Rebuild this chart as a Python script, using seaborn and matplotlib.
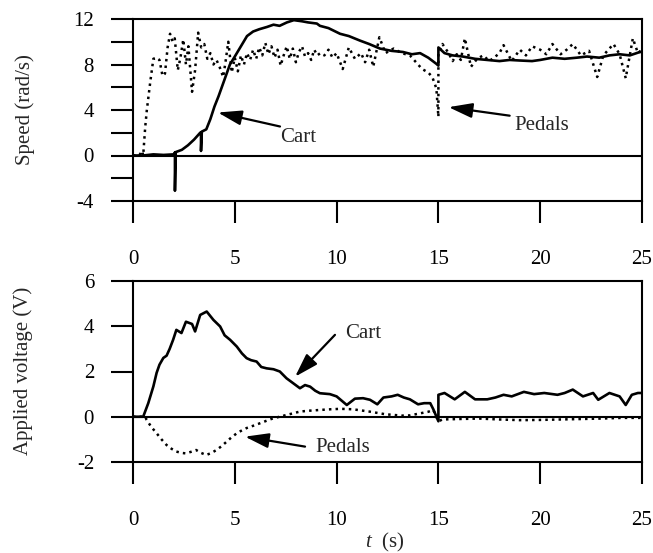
import matplotlib
matplotlib.use("Agg")
import matplotlib.pyplot as plt
import seaborn as sns

### speed panel data
cart_spd_t = [0, 0.5, 1.0, 1.5, 2.0, 2.06, 2.06, 2.1, 2.4, 2.7, 3.0, 3.3, 3.34, 3.34, 3.38, 3.6, 3.8, 4.0,
              4.2, 4.5, 4.76, 5.0, 5.3, 5.6, 5.9, 6.2, 6.58, 6.9, 7.2, 7.56, 7.9, 8.3, 8.6, 9.03, 9.18, 9.6,
              10.17, 10.6, 11.15, 11.6, 12.13, 12.7, 13.26, 13.7, 14.1, 14.5, 14.9, 15.0, 15.0, 15.3, 15.7,
              16.2, 16.8, 17.4, 18.0, 18.5, 19.0, 19.6, 20.0, 20.6, 21.2, 21.8, 22.3, 22.9, 23.4, 23.9, 24.4,
              24.9, 25.0]
cart_spd = [0, 0, 0.1, 0.05, 0.1, 0.27, -3.1, 0.3, 0.5, 0.9, 1.4, 2.0, 2.05, 0.4, 2.1, 2.3, 3.2, 4.3,
            5.2, 6.7, 8.0, 8.7, 9.6, 10.5, 10.9, 11.1, 11.3, 11.5, 11.4, 11.7, 11.9, 11.8, 11.7, 11.6, 11.4,
            11.2, 10.7, 10.5, 10.1, 9.8, 9.4, 9.2, 9.1, 8.9, 9.0, 8.6, 8.06, 7.9, 9.5, 9.0, 8.8, 8.7, 8.5,
            8.4, 8.3, 8.4, 8.35, 8.3, 8.4, 8.6, 8.5, 8.6, 8.7, 8.6, 8.8, 8.9, 8.8, 9.1, 9.1]

ped_spd_t = [0, 0.3, 0.45, 0.5, 0.6, 0.68, 0.85, 1.0, 1.15, 1.3, 1.45, 1.57, 1.7, 1.82, 1.95, 2.05, 2.2,
             2.32, 2.47, 2.6, 2.72, 2.9, 3.05, 3.2, 3.35, 3.5, 3.65, 3.8, 3.95, 4.1, 4.25, 4.43, 4.55, 4.68,
             4.85, 5.0, 5.15, 5.3, 5.45, 5.6, 5.75, 5.9, 6.05, 6.2, 6.35, 6.5, 6.65, 6.8, 6.95, 7.1, 7.25,
             7.4, 7.55, 7.7, 7.85, 8.0, 8.15, 8.3, 8.45, 8.6, 8.75, 8.9, 9.05, 9.2, 9.4, 9.6, 9.8, 10.0,
             10.3, 10.6, 10.9, 11.2, 11.4, 11.6, 11.8, 12.1, 12.4, 12.8, 13.2, 13.6, 13.8, 14.2, 14.5, 14.7,
             14.9, 15.0, 15.0, 15.2, 15.5, 15.7, 15.9, 16.1, 16.3, 16.6, 16.9, 17.2, 17.5, 17.8, 18.0, 18.2,
             18.6, 19.0, 19.3, 19.6, 20.0, 20.3, 20.6, 21.0, 21.3, 21.6, 22.0, 22.4, 22.8, 23.1, 23.4, 23.6,
             23.9, 24.2, 24.55, 24.8, 25.0]
ped_spd = [0, 0, 0.4, 0, 2.5, 4.0, 6.5, 8.5, 8.6, 8.4, 7.0, 7.2, 9.5, 10.7, 10.0, 10.3, 7.5, 8.5, 10.2,
           8.0, 9.6, 5.6, 7.5, 10.8, 9.5, 9.8, 8.5, 9.0, 8.0, 8.4, 7.8, 6.9, 8.3, 10.0, 7.3, 8.6, 7.4, 8.8,
           8.0, 9.0, 8.4, 9.3, 8.5, 9.5, 8.8, 9.9, 8.9, 9.6, 8.6, 9.3, 7.9, 8.8, 9.6, 8.5, 9.4, 8.2, 9.1,
           9.6, 8.7, 9.0, 8.4, 9.3, 8.8, 9.0, 8.8, 9.3, 8.6, 9.0, 7.6, 9.5, 8.5, 9.0, 8.2, 9.3, 7.8, 10.4,
           9.0, 9.4, 9.0, 8.8, 8.4, 7.6, 7.3, 6.9, 5.9, 3.4, 9.0, 9.8, 9.0, 8.3, 8.9, 8.4, 10.3, 7.8, 8.5,
           8.8, 8.3, 8.7, 9.0, 9.7, 8.3, 9.3, 8.8, 9.6, 9.3, 8.9, 9.8, 8.9, 9.3, 9.8, 8.8, 9.2, 6.9, 8.8,
           9.4, 9.8, 8.9, 6.8, 10.3, 9.0, 9.3]

### voltage panel data
cart_v_t = [0, 0.5, 0.75, 1.0, 1.16, 1.3, 1.49, 1.65, 1.8, 1.97, 2.13, 2.38, 2.6, 2.9, 3.05, 3.3, 3.62,
            3.95, 4.28, 4.5, 4.77, 5.1, 5.35, 5.58, 5.8, 6.07, 6.3, 6.56, 6.9, 7.21, 7.54, 7.87, 8.2, 8.45,
            8.7, 8.95, 9.18, 9.67, 10.0, 10.5, 10.9, 11.3, 11.64, 12.0, 12.3, 12.7, 13.0, 13.3, 13.6, 14.0,
            14.3, 14.6, 14.75, 15.0, 15.0, 15.3, 15.8, 16.3, 16.8, 17.4, 17.8, 18.2, 18.6, 19.2, 19.7, 20.2,
            20.85, 21.2, 21.6, 22.1, 22.6, 22.85, 23.4, 23.9, 24.2, 24.5, 24.8, 25.0]
cart_v = [0, 0, 0.6, 1.34, 1.94, 2.3, 2.6, 2.7, 3.0, 3.4, 3.84, 3.7, 4.2, 4.1, 3.77, 4.5, 4.65, 4.28,
          3.99, 3.6, 3.4, 3.1, 2.8, 2.59, 2.5, 2.44, 2.2, 2.14, 2.1, 2.0, 1.7, 1.48, 1.26, 1.4, 1.33, 1.15,
          1.04, 1.0, 0.9, 0.52, 0.8, 0.82, 0.75, 0.55, 0.85, 0.9, 0.97, 0.85, 0.77, 0.55, 0.6, 0.6, 0.33,
          -0.2, 0.97, 1.05, 0.77, 1.1, 0.77, 0.77, 0.85, 0.97, 0.9, 1.1, 1.0, 1.05, 0.97, 1.05, 1.2, 0.9,
          1.05, 0.75, 1.05, 0.9, 0.52, 0.97, 1.05, 1.05]

ped_v_t = [0, 0.6, 0.67, 0.9, 1.16, 1.4, 1.65, 1.9, 2.13, 2.4, 2.6, 2.85, 3.1, 3.35, 3.6, 3.85, 4.1, 4.35,
           4.6, 4.85, 5.1, 5.35, 5.58, 5.9, 6.23, 6.55, 6.88, 7.2, 7.54, 7.9, 8.2, 8.7, 9.18, 9.7, 10.2,
           10.8, 11.2, 11.6, 12.0, 12.4, 12.8, 13.2, 13.6, 14.1, 14.5, 14.75, 15.0, 15.2, 16.0, 17.0, 18.0,
           19.0, 20.0, 21.0, 22.0, 23.0, 24.0, 25.0]
ped_v = [0, 0, -0.14, -0.45, -0.73, -1.0, -1.25, -1.42, -1.54, -1.6, -1.62, -1.55, -1.47, -1.6, -1.69,
         -1.6, -1.47, -1.3, -1.1, -0.9, -0.73, -0.6, -0.5, -0.4, -0.29, -0.18, -0.07, 0.0, 0.08, 0.16, 0.23,
         0.27, 0.3, 0.33, 0.35, 0.33, 0.28, 0.23, 0.17, 0.11, 0.08, 0.05, 0.06, 0.15, 0.22, 0.3, -0.2,
         -0.12, -0.1, -0.08, -0.12, -0.15, -0.14, -0.12, -0.1, -0.08, -0.05, -0.05]

x_ticks = [0, 5, 10, 15, 20, 25]
spd_ticks = [-4, -2, 0, 2, 4, 6, 8, 10, 12]
spd_labels = ["-4", "", "0", "", "4", "", "8", "", "12"]
v_ticks = [-2, 0, 2, 4, 6]

sns.set_style("ticks")
plt.rcParams['font.family'] = ['Liberation Serif', 'DejaVu Serif']
plt.rcParams['font.size'] = 15
plt.rcParams['axes.unicode_minus'] = False
plt.rcParams['mathtext.fontset'] = 'custom'
plt.rcParams['mathtext.it'] = 'Liberation Serif:italic'
plt.rcParams['mathtext.rm'] = 'Liberation Serif'

FS = 15
ARROW = dict(arrowstyle='-|>,head_length=0.8,head_width=0.25', color='black', lw=1.6,
             mutation_scale=18, shrinkA=0, shrinkB=0)

fig = plt.figure(figsize=(6.53, 5.53), dpi=100)
ax1 = fig.add_axes([133/653, 1 - 201/553, 509/653, 182/553])
ax2 = fig.add_axes([133/653, 1 - 462/553, 509/653, 181/553])

def style_ax(ax):
    for s in ax.spines.values():
        s.set_linewidth(1.5)
        s.set_color('black')
    ax.set_xlim(0, 25)
    ax.set_xticks(x_ticks)
    ax.tick_params(axis='both', direction='out', length=16, width=1.5, colors='black', labelsize=FS)
    ax.tick_params(axis='x', pad=19)
    ax.tick_params(axis='y', pad=12)
    ax.axhline(0, color='black', lw=1.5, zorder=1)
    ax.set_xlabel("")
    ax.set_ylabel("")

### speed
sns.lineplot(x=cart_spd_t, y=cart_spd, ax=ax1, color='black', lw=1.9, estimator=None, sort=False)
sns.lineplot(x=ped_spd_t, y=ped_spd, ax=ax1, color='black', lw=1.8, linestyle=':', estimator=None, sort=False)
style_ax(ax1)
ax1.set_ylim(-4, 12)
ax1.set_yticks(spd_ticks)
ax1.set_yticklabels(spd_labels)
ax1.annotate("", xy=(4.17, 3.78), xytext=(7.22, 2.55), arrowprops=ARROW)
ax1.text(8.1, 1.58, "Cart", ha='center', va='center', fontsize=FS)
ax1.annotate("", xy=(15.5, 4.25), xytext=(18.5, 3.5), arrowprops=ARROW)
ax1.text(20.1, 2.64, "Pedals", ha='center', va='center', fontsize=FS)

### voltage
sns.lineplot(x=cart_v_t, y=cart_v, ax=ax2, color='black', lw=1.9, estimator=None, sort=False)
sns.lineplot(x=ped_v_t, y=ped_v, ax=ax2, color='black', lw=1.8, linestyle=':', estimator=None, sort=False)
style_ax(ax2)
ax2.set_ylim(-2, 6)
ax2.set_yticks(v_ticks)
ax2.annotate("", xy=(7.96, 1.77), xytext=(9.92, 3.62), arrowprops=ARROW)
ax2.text(11.3, 3.7, "Cart", ha='center', va='center', fontsize=FS)
ax2.annotate("", xy=(5.5, -0.88), xytext=(8.45, -1.32), arrowprops=ARROW)
ax2.text(10.3, -1.38, "Pedals", ha='center', va='center', fontsize=FS)

fig.text(25/653, 1 - 110/553, "Speed (rad/s)", rotation=90, ha='center', va='center', fontsize=FS)
fig.text(23/653, 1 - 371/553, "Applied voltage (V)", rotation=90, ha='center', va='center', fontsize=FS)
fig.text(385/653, 1 - 542/553, r"$t$  (s)", ha='center', va='center', fontsize=FS)

fig.savefig("out.png", dpi=100)
